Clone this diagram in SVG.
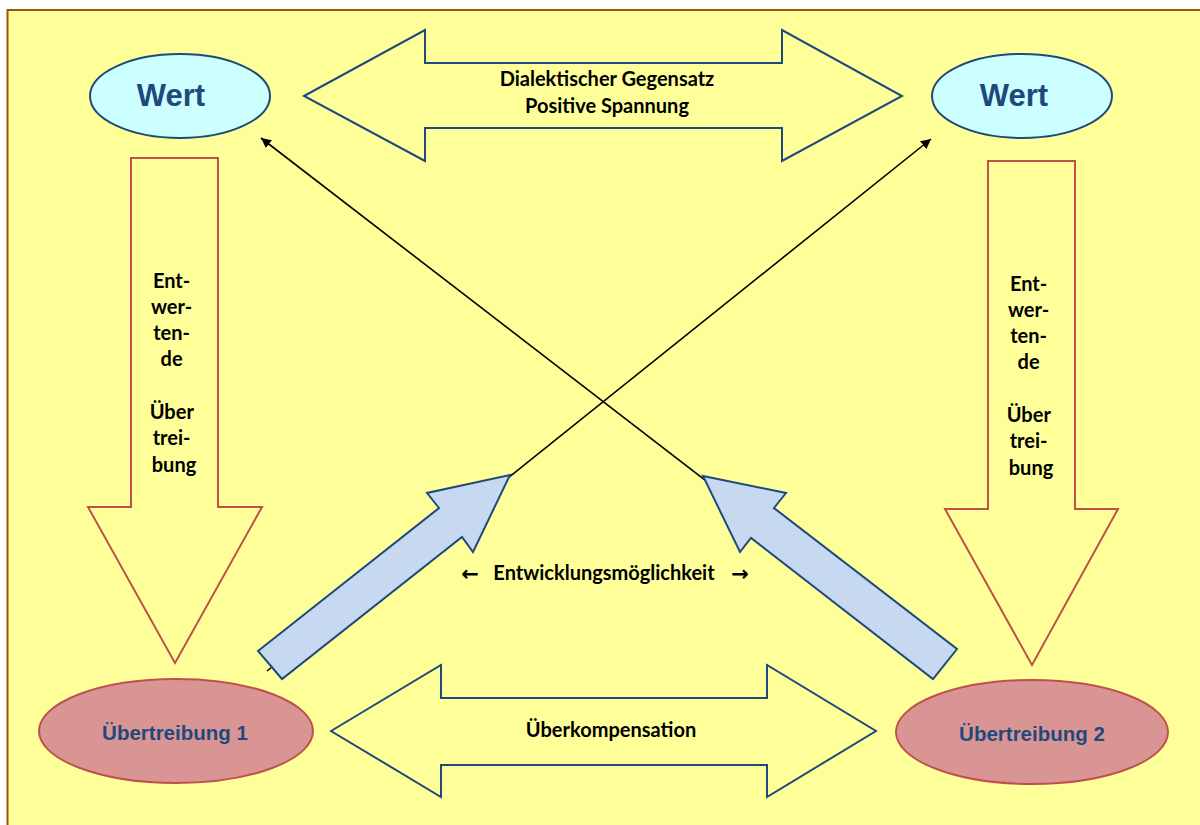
<svg xmlns="http://www.w3.org/2000/svg" width="1200" height="825" viewBox="0 0 1200 825">
<defs>
<style>
.bg{fill:#FFFF99;stroke:#A0520F;stroke-width:2}
.wert{fill:#CCFFFF;stroke:#1F497D;stroke-width:2}
.ueb{fill:#D99594;stroke:#C0504D;stroke-width:2}
.down{fill:#FFFF99;stroke:#C0504D;stroke-width:2}
.dbl{fill:#FFFF99;stroke:#1F497D;stroke-width:2}
.fat{fill:#C6D9F1;stroke:#1F497D;stroke-width:2}
.conn{stroke:#000;stroke-width:1.6;fill:none}
.t1{font-family:"Liberation Sans",Arial,sans-serif;font-weight:bold;fill:#1F497D;text-anchor:middle}
.t2{font-family:Lato,"Open Sans",sans-serif;font-weight:bold;fill:#000;text-anchor:middle;font-size:20px}
.arr{font-family:"DejaVu Sans",sans-serif;font-weight:bold;font-size:21px}
</style>
<marker id="ah" viewBox="0 0 10 10" refX="10" refY="5" markerWidth="10" markerHeight="10" markerUnits="userSpaceOnUse" orient="auto">
<path d="M0,0 L10,5 L0,10 z" fill="#000"/>
</marker>
</defs>
<rect x="0" y="0" width="1200" height="825" fill="#FFFFFF"/>
<rect class="bg" x="7.5" y="10" width="1300" height="900"/>

<g id="connectors">
<line class="conn" x1="267" y1="671" x2="931" y2="139" style="marker-end:url(#ah)"/>
<line class="conn" x1="945" y1="665" x2="261" y2="138" style="marker-end:url(#ah)"/>
</g>

<g id="dialektik">
<polygon class="dbl" points="304,96 425,30 425,63 782,63 782,30 902,96 782,161 782,128 425,128 425,161"/>
<text class="t2" x="607" y="86">Dialektischer Gegensatz</text>
<text class="t2" x="607" y="113">Positive Spannung</text>
</g>

<g id="wert1">
<ellipse class="wert" cx="180" cy="96" rx="90" ry="42"/>
<text class="t1" font-size="31" x="171" y="106">Wert</text>
</g>
<g id="wert2">
<ellipse class="wert" cx="1022" cy="96" rx="90" ry="42"/>
<text class="t1" font-size="31" x="1014" y="106">Wert</text>
</g>

<g id="entwertung1">
<polygon class="down" points="131,158 218,158 218,507 262,507 175,663 88,507 131,507"/>
<text class="t2">
<tspan x="174" y="288">Ent-</tspan>
<tspan x="174" y="314">wer-</tspan>
<tspan x="174" y="340">ten-</tspan>
<tspan x="174" y="366">de</tspan>
<tspan x="174" y="419">Über</tspan>
<tspan x="174" y="445">trei-</tspan>
<tspan x="174" y="472">bung</tspan>
</text>
</g>
<g id="entwertung2">
<polygon class="down" points="988,161 1075,161 1075,509 1118,509 1032,665 945,509 988,509"/>
<text class="t2">
<tspan x="1031" y="291">Ent-</tspan>
<tspan x="1031" y="317">wer-</tspan>
<tspan x="1031" y="343">ten-</tspan>
<tspan x="1031" y="369">de</tspan>
<tspan x="1031" y="422">Über</tspan>
<tspan x="1031" y="448">trei-</tspan>
<tspan x="1031" y="475">bung</tspan>
</text>
</g>

<g id="entwicklung1">
<polygon class="fat" points="258,651 439,508 427,493 510,475 473,552 462,537 282,679"/>
</g>
<g id="entwicklung2">
<polygon class="fat" points="703,476 786,493 774,508 957,649 933,679 751,538 740,552"/>
</g>
<g id="entwicklung-label">
<text class="t2"><tspan class="arr" x="470" y="581">←</tspan><tspan x="604" y="580">Entwicklungsmöglichkeit</tspan><tspan class="arr" x="740" y="581">→</tspan></text>
</g>

<g id="ueberkompensation">
<polygon class="dbl" points="331,731 441,665 441,698 767,698 767,665 876,731 767,797 767,765 441,765 441,797"/>
<text class="t2" x="611" y="737">Überkompensation</text>
</g>

<g id="uebertreibung1">
<ellipse class="ueb" cx="176" cy="731" rx="137" ry="52"/>
<text class="t1" font-size="20.5" x="175" y="740">Übertreibung 1</text>
</g>
<g id="uebertreibung2">
<ellipse class="ueb" cx="1032" cy="732" rx="136" ry="52"/>
<text class="t1" font-size="20.5" x="1032" y="741">Übertreibung 2</text>
</g>
</svg>
